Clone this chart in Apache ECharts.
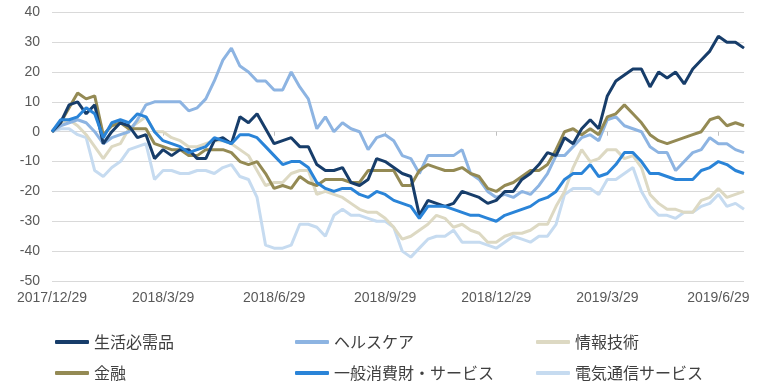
<!DOCTYPE html>
<html>
<head>
<meta charset="utf-8">
<script src="https://cdn.jsdelivr.net/npm/echarts@6/dist/echarts.min.js"></script>
<style>
html,body{margin:0;padding:0;background:#fff;}
#chart{width:780px;height:384px;}
</style>
</head>
<body>
<div id="chart"></div>
<script>
// Tick labels shown on the x axis (every 13 weekly points)
const tickLabels = ['2017/12/29','2018/3/29','2018/6/29','2018/9/29','2018/12/29','2019/3/29','2019/6/29'];
const tickStep = 13;
const pointCount = 82;

// Weekly categories starting 2017/12/29
const categories = [];
(function(){
  const d0 = new Date(2017, 11, 29);
  for (let i = 0; i < pointCount; i++) {
    const d = new Date(d0.getTime() + i * 7 * 86400000);
    categories.push(d.getFullYear() + '/' + (d.getMonth() + 1) + '/' + d.getDate());
  }
})();

const seriesNames = ['生活必需品','ヘルスケア','情報技術','金融','一般消費財・サービス','電気通信サービス'];

const staples = [0,3,9,10,6,9,-4,0,3,2,
  -2,-1,-9,-6,-8,-6,-6,-9,-9,-3,
  -2,-4,5,3,6,1,-4,-3,-2,-5,
  -5,-11,-13,-13,-12,-17,-18,-16,-9,-10,
  -12,-14,-15,-28,-23,-24,-25,-24,-20,-21,
  -22,-24,-23,-20,-20,-16,-14,-11,-7,-8,
  -2,-4,1,4,1,12,17,19,21,21,
  15,20,18,20,16,21,24,27,32,30,
  30,28];

const healthcare = [0,2,3,4,3,0,-4,-2,-1,0,
  4,9,10,10,10,10,7,8,11,17,
  24,28,22,20,17,17,14,14,20,15,
  11,1,5,0,3,1,0,-6,-2,-1,
  -3,-8,-9,-14,-8,-8,-8,-8,-6,-14,
  -16,-20,-22,-21,-22,-20,-21,-18,-14,-8,
  -8,-5,-2,-1,-3,4,5,2,1,0,
  -5,-7,-7,-13,-10,-7,-6,-2,-4,-4,
  -6,-7];

const infoTech = [0,3,4,2,-1,-5,-9,-5,-4,1,
  3,5,0,0,-2,-3,-5,-5,-4,-3,
  -3,-4,-6,-8,-13,-18,-17,-17,-14,-13,
  -13,-21,-20,-21,-22,-24,-26,-27,-27,-29,
  -32,-36,-35,-33,-31,-28,-29,-32,-31,-33,
  -34,-37,-37,-35,-34,-34,-33,-31,-31,-25,
  -20,-12,-6,-10,-9,-6,-6,-9,-8,-12,
  -21,-24,-26,-26,-27,-27,-23,-22,-19,-22,
  -21,-20];

const financials = [0,3,8,13,11,12,-1,2,3,1,
  1,1,-4,-5,-6,-6,-8,-8,-6,-6,
  -6,-7,-10,-11,-10,-14,-19,-18,-19,-15,
  -17,-18,-16,-16,-16,-17,-17,-13,-13,-13,
  -13,-18,-18,-13,-11,-12,-13,-13,-12,-14,
  -15,-19,-20,-18,-17,-15,-13,-13,-11,-6,
  0,1,-1,1,-1,5,6,9,6,3,
  -1,-3,-4,-3,-2,-1,0,4,5,2,
  3,2];

const consDisc = [0,4,4,5,8,6,-2,3,4,3,
  6,5,0,-3,-4,-5,-7,-6,-5,-2,
  -3,-4,-1,-1,-2,-5,-8,-11,-10,-10,
  -12,-17,-19,-20,-19,-19,-21,-22,-20,-21,
  -23,-24,-25,-29,-25,-25,-25,-26,-27,-28,
  -28,-29,-30,-28,-27,-26,-25,-23,-22,-20,
  -16,-14,-14,-11,-15,-14,-11,-7,-7,-10,
  -14,-14,-15,-16,-16,-16,-13,-12,-10,-11,
  -13,-14];

const telecom = [0,1,1,-1,-2,-13,-15,-12,-10,-6,
  -5,-4,-16,-13,-13,-14,-14,-13,-13,-14,
  -12,-11,-15,-16,-22,-38,-39,-39,-38,-31,
  -31,-32,-35,-28,-26,-28,-28,-29,-30,-30,
  -32,-40,-42,-39,-36,-35,-35,-33,-37,-37,
  -37,-38,-39,-37,-35,-36,-37,-35,-35,-31,
  -21,-19,-19,-19,-21,-16,-16,-14,-12,-20,
  -25,-28,-28,-29,-27,-27,-25,-24,-21,-25,
  -24,-26];

const colors = ['#173D6A','#8DB4E2','#DDD9C3','#948A54','#2A84D8','#C6DBF0'];
const values = [staples, healthcare, infoTech, financials, consDisc, telecom];
const drawOrder = [5, 2, 1, 3, 0, 4];

const chart = echarts.init(document.getElementById('chart'), null, {renderer: 'canvas'});

const legendPos = [[50,329],[290,329],[531,329],[50,360],[290,360],[531,360]];
const legends = seriesNames.map((n, i) => ({
  data: [n],
  left: legendPos[i][0],
  top: legendPos[i][1],
  icon: 'roundRect',
  itemWidth: 34,
  itemHeight: 4,
  textStyle: {fontSize: 16, color: '#404040', fontFamily: '"Noto Sans CJK JP", sans-serif', padding: [0,0,0,0]},
  selectedMode: false
}));

chart.setOption({
  animation: false,
  color: colors,
  legend: legends,
  grid: {left: 52, right: 36, top: 12.3, bottom: 103},
  xAxis: [{
    type: 'category',
    data: categories,
    boundaryGap: false,
    axisLine: {show: false, onZero: false},
    axisTick: {show: false},
    splitLine: {show: false},
    axisLabel: {
      interval: function(i){ return i % tickStep === 0; },
      formatter: function(v, i){ return tickLabels[i / tickStep] || ''; },
      color: '#595959',
      fontSize: 14,
      fontFamily: 'Liberation Sans, Arial, sans-serif',
      margin: 10
    }
  },{
    type: 'category',
    data: categories,
    boundaryGap: false,
    position: 'bottom',
    axisLine: {show: true, onZero: true, lineStyle: {color: '#d9d9d9', width: 1}},
    axisTick: {show: true, interval: function(i){ return i % tickStep === 0 && i > 0; }, length: 4, lineStyle: {color: '#bfbfbf'}},
    axisLabel: {show: false},
    splitLine: {show: false}
  }],
  yAxis: {
    type: 'value',
    min: -50, max: 40, interval: 10,
    axisLine: {show: false},
    axisTick: {show: false},
    splitLine: {lineStyle: {color: '#d9d9d9', width: 1}},
    axisLabel: {color: '#595959', fontSize: 14, fontFamily: 'Liberation Sans, Arial, sans-serif', margin: 12}
  },
  series: drawOrder.map(i => ({
    name: seriesNames[i],
    type: 'line',
    data: values[i],
    xAxisIndex: 0,
    symbol: 'none',
    lineStyle: {width: 3, color: colors[i]},
    itemStyle: {color: colors[i]},
    z: 2
  }))
});
</script>
</body>
</html>
